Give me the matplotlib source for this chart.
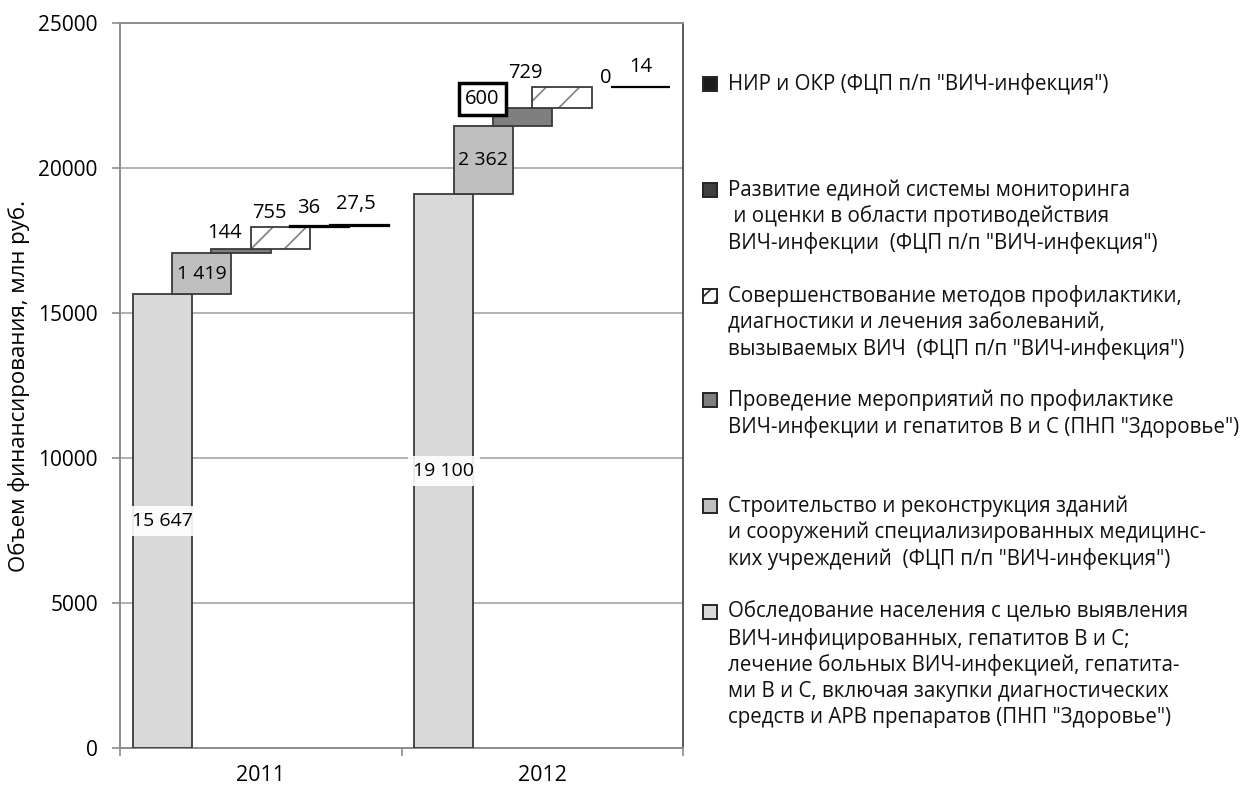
import matplotlib
matplotlib.use("Agg")
import matplotlib.pyplot as plt
import numpy as np
from matplotlib.patches import Rectangle

# Data (bottom segment first)
years = ["2011", "2012"]
values_2011 = [15647, 1419, 144, 755, 36, 27.5]
values_2012 = [19100, 2362, 600, 729, 0, 14]
labels_2011 = ["15 647", "1 419", "144", "755", "36", "27,5"]
labels_2012 = ["19 100", "2 362", "600", "729", "0", "14"]
series_names = [
    'Обследование населения с целью выявления\nВИЧ-инфицированных, гепатитов В и С;\n'
    'лечение больных ВИЧ-инфекцией, гепатита-\nми В и С, включая закупки диагностических\n'
    'средств и АРВ препаратов (ПНП "Здоровье")',
    'Строительство и реконструкция зданий\nи сооружений специализированных медицинс-\n'
    'ких учреждений  (ФЦП п/п "ВИЧ-инфекция")',
    'Проведение мероприятий по профилактике\nВИЧ-инфекции и гепатитов В и С (ПНП "Здоровье")',
    'Совершенствование методов профилактики,\nдиагностики и лечения заболеваний,\n'
    'вызываемых ВИЧ  (ФЦП п/п "ВИЧ-инфекция")',
    'Развитие единой системы мониторинга\n и оценки в области противодействия\n'
    'ВИЧ-инфекции  (ФЦП п/п "ВИЧ-инфекция")',
    'НИР и ОКР (ФЦП п/п "ВИЧ-инфекция")',
]
y_ticks = [0, 5000, 10000, 15000, 20000, 25000]

fills = ["#d9d9d9", "#bfbfbf", "#7f7f7f", "white", "#404040", "#1c1c1c"]
edge = "#3a3a3a"
FONT = "Open Sans"
plt.rcParams["hatch.linewidth"] = 1.2

# label offsets in pixels (dx, dy) for the small top segments, None = centred
offs_2011 = [None, None, (-17, 16), (-11, 14), (-11, 18), (-3, 21)]
offs_2012 = [None, None, (-40, 9), (-37, 14), (4, 9), (0, 20)]

fig = plt.figure(figsize=(12.46, 7.87), dpi=100)
ax = fig.add_axes([120 / 1246, 39 / 787, 563 / 1246, 725 / 787])

step = 0.14
width = 0.21
offsets = np.arange(6) * step - 0.35

for i, (vals, labs, offs) in enumerate([(values_2011, labels_2011, offs_2011),
                                       (values_2012, labels_2012, offs_2012)]):
    bottoms = np.concatenate([[0], np.cumsum(vals)[:-1]])
    for k in range(6):
        x = i + offsets[k]
        if vals[k] > 0:
            if k == 3:
                ax.bar(x, vals[k], width, bottom=bottoms[k], color="white",
                       hatch="/", edgecolor="#808080", linewidth=0, zorder=3)
                ax.bar(x, vals[k], width, bottom=bottoms[k], color="none",
                       edgecolor=edge, linewidth=1.3, zorder=4)
            elif k >= 4:
                ax.bar(x, vals[k], width, bottom=bottoms[k], color=fills[k],
                       edgecolor="black", linewidth=1.6, zorder=4)
            else:
                ax.bar(x, vals[k], width, bottom=bottoms[k], color=fills[k],
                       edgecolor=edge, linewidth=1.3, zorder=3)
        top = bottoms[k] + vals[k]
        if offs[k] is None:
            bb = None
            if k == 0:
                bb = dict(facecolor="white", edgecolor="none", alpha=0.9, pad=4)
            ax.text(x, bottoms[k] + vals[k] / 2, labs[k], ha="center", va="center",
                    fontsize=14, family=FONT, color="black", bbox=bb, zorder=6)
        else:
            bb = None
            if labs[k] == "600":
                bb = dict(facecolor="white", edgecolor="black", linewidth=2.5,
                          boxstyle="square,pad=0.3")
            ax.annotate(labs[k], (x, top), xytext=offs[k], textcoords="offset pixels",
                        ha="center", va="center", fontsize=14.5, family=FONT,
                        bbox=bb, zorder=6)

ax.set_xlim(-0.5, 1.5)
ax.set_ylim(0, 25000)
ax.set_yticks(y_ticks)
ax.set_yticklabels([str(t) for t in y_ticks], family=FONT, fontsize=15)
ax.set_xticks([0, 1])
ax.set_xticklabels(years, family=FONT, fontsize=15.5)
ax.set_xticks([-0.5, 0.5, 1.5], minor=True)
ax.tick_params(axis="x", which="major", length=0, pad=12)
ax.tick_params(axis="x", which="minor", length=6, color="#8c8c8c", width=1.2)
ax.tick_params(axis="y", length=6, color="#8c8c8c", width=1.2, pad=10)
ax.grid(axis="y", color="#a6a6a6", linewidth=1.2, zorder=0)
ax.set_axisbelow(True)
for s in ["left", "bottom", "top"]:
    ax.spines[s].set_color("#8c8c8c")
    ax.spines[s].set_linewidth(1.4)
ax.spines["right"].set_color("#404040")
ax.spines["right"].set_linewidth(1.2)
ax.set_ylabel("Объем финансирования, млн руб.", family=FONT, fontsize=16, labelpad=6)

# legend, drawn by hand on an overlay axes in pixel units
lax = fig.add_axes([0, 0, 1, 1])
lax.set_xlim(0, 1246)
lax.set_ylim(787, 0)
lax.axis("off")
entry_y = [612, 506, 400, 296, 190, 84]
line_h = 26.5
for k in range(6):
    y0 = entry_y[k]
    rect = Rectangle((703, y0 - 7), 14, 14, facecolor=fills[k], edgecolor="#262626",
                     linewidth=1.4, hatch="//" if k == 3 else None)
    lax.add_patch(rect)
    for j, line in enumerate(series_names[k].split("\n")):
        lax.text(728, y0 + j * line_h, line, ha="left", va="center",
                 family=FONT, fontsize=14.8, color="#111111")

fig.savefig("out.png", dpi=100)
